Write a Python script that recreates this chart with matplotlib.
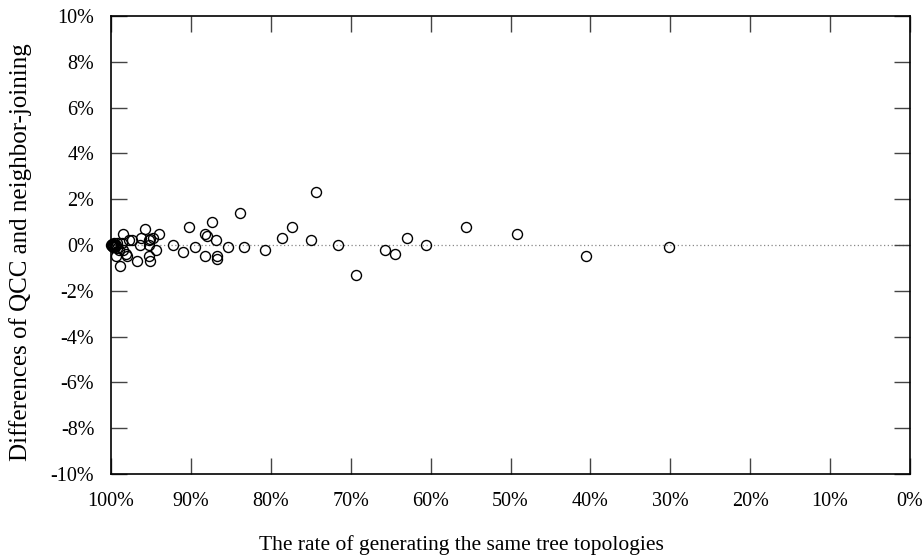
import numpy as np
import matplotlib
matplotlib.use("Agg")
import matplotlib.pyplot as plt
from matplotlib.ticker import FuncFormatter

plt.rcParams['font.family'] = ['Liberation Serif', 'DejaVu Serif']

# rate of identical topologies (%) and difference QCC - NJ (%)
rate = [
    100.0, 99.9, 99.8, 99.7, 99.6, 99.5, 99.4, 99.3, 99.9, 99.7, 99.5, 99.8,
    99.2, 99.0, 98.9, 99.4, 98.5, 98.5, 98.1, 98.0, 97.8, 97.4, 96.7, 96.4,
    96.2, 95.8, 95.3, 95.1, 95.1, 94.7, 94.4, 94.0, 95.2, 95.3, 98.6,
    92.3, 91.0, 90.2, 89.5, 88.2, 88.0, 88.2, 87.4, 86.8, 86.7, 86.7,
    85.3, 83.9, 83.3, 80.7, 78.6, 77.3, 75.0, 74.3, 71.6, 69.3, 65.7,
    64.4, 63.0, 60.6, 55.6, 49.2, 40.5, 30.2,
]
diff = [
    0.0, 0.05, -0.05, 0.0, 0.1, -0.1, 0.0, -0.15, -0.05, 0.05, 0.0, -0.1,
    0.1, -0.2, -0.9, -0.5, 0.5, -0.2, -0.4, -0.5, 0.2, 0.2, -0.7, 0.0,
    0.3, 0.7, -0.5, -0.7, 0.25, 0.3, -0.2, 0.5, 0.2, 0.0, 0.1,
    0.0, -0.3, 0.8, -0.1, 0.5, 0.4, -0.5, 1.0, 0.2, -0.5, -0.6,
    -0.1, 1.4, -0.1, -0.2, 0.3, 0.8, 0.2, 2.3, 0.0, -1.3, -0.2,
    -0.4, 0.3, 0.0, 0.8, 0.5, -0.5, -0.1,
]

x_ticks = np.arange(0, 101, 10)
y_ticks = np.arange(-10, 11, 2)

fig = plt.figure(figsize=(9.23, 5.58), dpi=100)
ax = fig.add_axes([0.1203, 0.1505, 0.8656, 0.8208])

ax.axhline(0, color='#888888', linestyle=(0, (1, 2)), linewidth=0.9, zorder=1)
ax.plot(rate, diff, 'o', markersize=7.2, markerfacecolor='none',
        markeredgecolor='black', markeredgewidth=1.0, clip_on=False, zorder=3)

ax.set_xlim(100, 0)
ax.set_ylim(-10, 10)
ax.set_xticks(x_ticks)
ax.set_yticks(y_ticks)
ax.xaxis.set_major_formatter(FuncFormatter(lambda v, p: f'{v:.0f}%'))
ax.yaxis.set_major_formatter(FuncFormatter(lambda v, p: f'{v:.0f}%'))
ax.tick_params(direction='in', length=11.5, width=1, color='#444444',
               top=True, right=True, labelsize=14.5, pad=12)
ax.tick_params(axis='x', pad=13)
for s in ax.spines.values():
    s.set_linewidth(1.2)

# gnuplot-style: x label centred on the canvas, not on the axes
ax.set_xlabel('The rate of generating the same tree topologies', fontsize=15.5)
ax.xaxis.set_label_coords(0.4387, -0.133)
ax.set_ylabel('Differences of QCC and neighbor-joining', fontsize=18)
ax.yaxis.set_label_coords(-0.099, 0.485)

plt.savefig('out.png', dpi=100)
